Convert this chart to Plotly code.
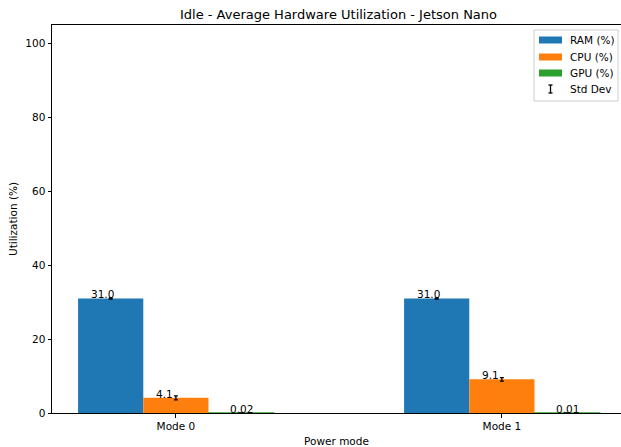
import plotly.graph_objects as go

# Average hardware utilization while idle, per power mode
modes = ["Mode 0", "Mode 1"]
ram_pct = [31.0, 31.0]
cpu_pct = [4.1, 9.1]
gpu_pct = [0.02, 0.01]
ram_std = [0.15, 0.15]
cpu_std = [0.55, 0.5]
gpu_std = [0.01, 0.01]

series = [
    ("RAM (%)", ram_pct, ram_std, "#1f77b4", "{:.1f}", -8),
    ("CPU (%)", cpu_pct, cpu_std, "#ff7f0e", "{:.1f}", -11),
    ("GPU (%)", gpu_pct, gpu_std, "#2ca02c", "{:.2f}", 0),
]

W, H = 621, 447
L, R, T, B = 52, 0, 25, 34
PW, PH = W - L - R, H - T - B
FONT = "DejaVu Sans"

x_pos = list(range(len(modes)))
bar_w = 0.2

fig = go.Figure()
annotations = []
for i, (name, vals, errs, color, fmt, dx) in enumerate(series):
    offset = (i - 1) * bar_w
    fig.add_trace(go.Bar(
        x=x_pos, y=vals, name=name, width=bar_w, offset=offset - bar_w / 2,
        marker=dict(color=color, line=dict(color=color, width=1.5 if i == 2 else 0)),
        error_y=dict(type="data", array=errs, visible=True, color="black",
                     thickness=1.3, width=2),
        showlegend=False,
    ))
    for xp, v in zip(x_pos, vals):
        annotations.append(dict(
            x=xp + offset, y=v, xref="x", yref="y", text=fmt.format(v),
            showarrow=False, xanchor="center", yanchor="bottom",
            xshift=dx, yshift=-4, font=dict(family=FONT, size=10.5, color="black"),
        ))

# hand-drawn legend box in pixel space
def px(x):
    return (x - L) / PW

def py(y):
    return (H - B - y) / PH

shapes = [dict(type="rect", xref="paper", yref="paper",
               x0=px(534), x1=px(618), y0=py(101), y1=py(30),
               line=dict(color="#cccccc", width=1), fillcolor="rgba(255,255,255,0.8)",
               layer="above")]
rows = [40, 57, 73, 89]
for (name, _, _, color, _, _), yc in zip(series, rows):
    shapes.append(dict(type="rect", xref="paper", yref="paper",
                       x0=px(539), x1=px(562), y0=py(yc + 3.5), y1=py(yc - 3.5),
                       line=dict(width=0), fillcolor=color, layer="above"))
    annotations.append(dict(x=px(568), y=py(yc), xref="paper", yref="paper", text=name,
                            showarrow=False, xanchor="left", yanchor="middle",
                            font=dict(family=FONT, size=10.5, color="black")))
# std dev glyph
yc = rows[3]
for seg in [(550.5, yc - 4, 550.5, yc + 4), (548.5, yc - 4, 552.5, yc - 4),
            (548.5, yc + 4, 552.5, yc + 4)]:
    shapes.append(dict(type="line", xref="paper", yref="paper",
                       x0=px(seg[0]), y0=py(seg[1]), x1=px(seg[2]), y1=py(seg[3]),
                       line=dict(color="black", width=1.3), layer="above"))
annotations.append(dict(x=px(568), y=py(yc), xref="paper", yref="paper", text="Std Dev",
                        showarrow=False, xanchor="left", yanchor="middle",
                        font=dict(family=FONT, size=10.5, color="black")))

fig.update_layout(
    width=W, height=H,
    margin=dict(l=L, r=R, t=T, b=B, pad=0),
    paper_bgcolor="white", plot_bgcolor="white",
    font=dict(family=FONT, size=10.5, color="black"),
    title=dict(text="Idle - Average Hardware Utilization - Jetson Nano",
               x=338.5 / W, xref="container", xanchor="center",
               y=1 - 14 / H, yref="container", yanchor="middle",
               font=dict(family=FONT, size=13, color="black")),
    xaxis=dict(range=[-0.38, -0.38 + PW / 326.0], tickvals=x_pos, ticktext=modes,
               showgrid=False, zeroline=False, showline=True, linecolor="black",
               linewidth=1, mirror=True, ticks="outside", ticklen=3.5, tickwidth=1,
               tickcolor="black",
               title=dict(text="Power mode", font=dict(family=FONT, size=10.5), standoff=7)),
    yaxis=dict(range=[0, 105], tickvals=[0, 20, 40, 60, 80, 100],
               showgrid=False, zeroline=False, showline=True, linecolor="black",
               linewidth=1, ticks="outside", ticklen=3.5, tickwidth=1, tickcolor="black",
               title=dict(text="Utilization (%)", font=dict(family=FONT, size=10.5), standoff=5)),
    shapes=shapes,
    annotations=annotations,
    showlegend=False,
)

fig.write_html("out.html")
